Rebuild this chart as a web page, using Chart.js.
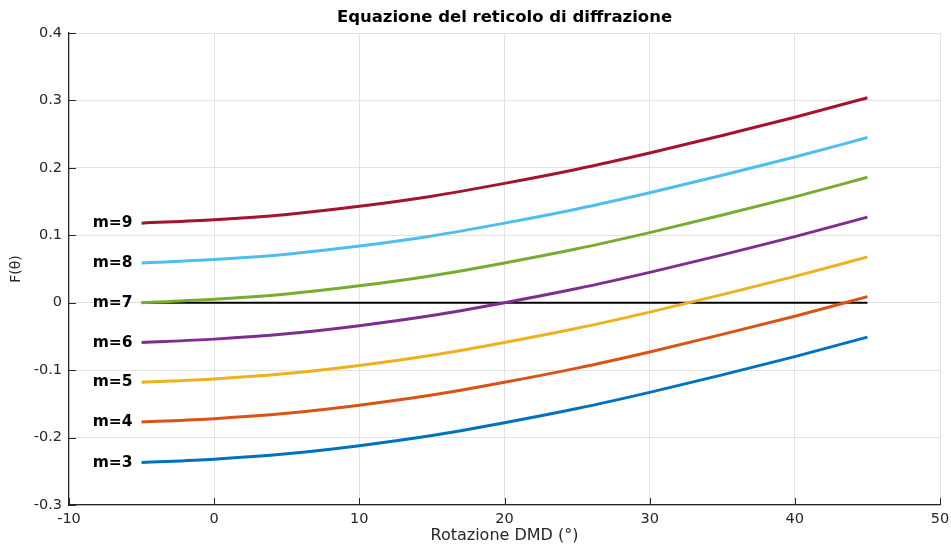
<!DOCTYPE html>
<html>
<head>
<meta charset="utf-8">
<title>Equazione del reticolo di diffrazione</title>
<script src="https://cdn.jsdelivr.net/npm/chart.js@4.4.1/dist/chart.umd.min.js"></script>
<style>
  html, body { margin: 0; padding: 0; background: #fff; }
  #wrap { width: 951px; height: 554px; }
</style>
</head>
<body>
<div id="wrap"><canvas id="chart" width="951" height="554"></canvas></div>
<script>
// grating equation curves, one per diffraction order
// values

const theta = [-5, 0, 5, 10, 15, 20, 25, 30, 35, 40, 45];

const orderLabels = ["m=3", "m=4", "m=5", "m=6", "m=7", "m=8", "m=9"];
const orderColors = ["#0072BD", "#D95319", "#EDB120", "#7E2F8E", "#77AC30", "#4DBEEE", "#A2142F"];

const m3 = [-0.237, -0.232, -0.224, -0.212, -0.197, -0.178, -0.157, -0.133, -0.107, -0.080, -0.051];
const m4 = [-0.177, -0.172, -0.164, -0.152, -0.137, -0.118, -0.097, -0.073, -0.047, -0.020, 0.009];
const m5 = [-0.118, -0.113, -0.105, -0.093, -0.078, -0.059, -0.038, -0.014, 0.012, 0.039, 0.068];
const m6 = [-0.059, -0.054, -0.046, -0.034, -0.019, 0.000, 0.021, 0.045, 0.071, 0.098, 0.127];
const m7 = [0.000, 0.005, 0.013, 0.025, 0.040, 0.059, 0.080, 0.104, 0.130, 0.157, 0.186];
const m8 = [0.059, 0.064, 0.072, 0.084, 0.099, 0.118, 0.139, 0.163, 0.189, 0.216, 0.245];
const m9 = [0.118, 0.123, 0.131, 0.143, 0.158, 0.177, 0.198, 0.222, 0.248, 0.275, 0.304];

// black reference line at F = 0
const zeroX = [-5, 45];
const zeroY = [0, 0];

const series = [m3, m4, m5, m6, m7, m8, m9];

const TEXT = "#262626";
const FONT = "'DejaVu Sans', sans-serif";

function pts(xs, ys) {
  return xs.map((x, i) => ({ x, y: ys[i] }));
}

const datasets = [];
// zero line first so the coloured curves sit on top of it
datasets.push({
  label: "zero",
  data: pts(zeroX, zeroY),
  borderColor: "#000",
  borderWidth: 2,
  pointRadius: 0,
  tension: 0,
  order: 10
});
series.forEach((s, i) => {
  datasets.push({
    label: orderLabels[i],
    data: pts(theta, s),
    borderColor: orderColors[i],
    borderWidth: 3,
    pointRadius: 0,
    cubicInterpolationMode: "monotone",
    order: 1
  });
});

// title, order labels and matlab-style inward ticks
const decorations = {
  id: "decorations",
  afterDraw(chart) {
    const { ctx, chartArea, scales } = chart;
    const xs = scales.x, ys = scales.y;
    ctx.save();

    // inward tick marks on left and bottom axes
    ctx.strokeStyle = TEXT;
    ctx.lineWidth = 1;
    ctx.beginPath();
    xs.ticks.forEach(t => {
      const px = Math.round(xs.getPixelForValue(t.value)) + 0.5;
      ctx.moveTo(px, chartArea.bottom);
      ctx.lineTo(px, chartArea.bottom - 7);
    });
    ys.ticks.forEach(t => {
      const py = Math.round(ys.getPixelForValue(t.value)) + 0.5;
      ctx.moveTo(chartArea.left, py);
      ctx.lineTo(chartArea.left + 7, py);
    });
    ctx.stroke();

    // title
    ctx.fillStyle = "#000";
    ctx.font = "bold 16.5px " + FONT;
    ctx.textAlign = "center";
    ctx.textBaseline = "middle";
    ctx.fillText("Equazione del reticolo di diffrazione", (chartArea.left + chartArea.right) / 2, 18);

    // m=... labels next to the start of each curve
    ctx.font = "bold 15.5px " + FONT;
    ctx.textAlign = "right";
    series.forEach((s, i) => {
      const px = xs.getPixelForValue(theta[0]) - 9;
      const py = ys.getPixelForValue(s[0]);
      ctx.fillText(orderLabels[i], px, py);
    });
    ctx.restore();
  }
};

new Chart(document.getElementById("chart"), {
  type: "line",
  data: { datasets },
  options: {
    responsive: false,
    animation: false,
    layout: { padding: { top: 33, right: 11, left: 0, bottom: 0 } },
    plugins: {
      legend: { display: false },
      tooltip: { enabled: false },
      title: { display: false }
    },
    scales: {
      x: {
        type: "linear",
        min: -10,
        max: 50,
        ticks: { stepSize: 10, color: TEXT, font: { family: FONT, size: 14.5 }, padding: 6, maxRotation: 0 },
        grid: { color: "#e2e2e2", drawTicks: false },
        border: { color: TEXT, width: 1.2 },
        title: { display: true, text: "Rotazione DMD (°)", color: TEXT, font: { family: FONT, size: 16 }, padding: { top: 0, bottom: 9 } },
        afterFit(scale) {
          scale.height = 49;
          // let the end labels overhang instead of shrinking the plot
          scale.paddingLeft = 0;
          scale.paddingRight = 0;
        }
      },
      y: {
        type: "linear",
        min: -0.3,
        max: 0.4,
        ticks: {
          stepSize: 0.1,
          color: TEXT,
          font: { family: FONT, size: 14.5 },
          padding: 7,
          callback: v => {
            const r = Math.round(v * 10) / 10;
            return r === 0 ? "0" : r.toFixed(1);
          }
        },
        grid: { color: "#e2e2e2", drawTicks: false },
        border: { color: TEXT, width: 1.2 },
        title: { display: true, text: "F(θ)", color: TEXT, font: { family: FONT, size: 14 }, padding: { top: 8, bottom: 4 } },
        afterFit(scale) {
          scale.width = 69;
          scale.paddingTop = 0;
          scale.paddingBottom = 0;
        }
      }
    }
  },
  plugins: [decorations]
});
</script>
</body>
</html>
